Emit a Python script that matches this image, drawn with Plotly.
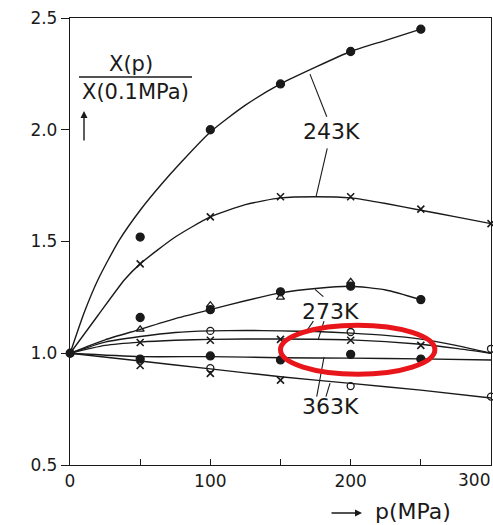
import plotly.graph_objects as go

c243a_x = [0.1, 10, 20, 35, 50, 65, 80, 100, 125, 150, 175, 200, 225, 250]
c243a_y = [1.0, 1.18, 1.33, 1.505, 1.64, 1.755, 1.86, 1.99, 2.11, 2.205, 2.28, 2.35, 2.40, 2.45]
c243b_x = [0.1, 20, 39, 50, 75, 100, 125, 150, 175, 200, 225, 250, 275, 300]
c243b_y = [1.0, 1.17, 1.33, 1.40, 1.52, 1.61, 1.665, 1.695, 1.70, 1.695, 1.67, 1.64, 1.61, 1.58]
c273a_x = [0.1, 25, 50, 75, 100, 125, 150, 175, 200, 225, 250]
c273a_y = [1.0, 1.06, 1.107, 1.155, 1.195, 1.235, 1.27, 1.29, 1.30, 1.283, 1.24]
c273b_x = [0.1, 25, 50, 75, 100, 125, 150, 175, 200, 225, 250, 275, 300]
c273b_y = [1.0, 1.05, 1.075, 1.093, 1.10, 1.102, 1.10, 1.097, 1.09, 1.08, 1.063, 1.035, 1.0]
cmid_x = [0.1, 25, 50, 75, 100, 150, 200, 250, 275, 300]
cmid_y = [1.0, 1.035, 1.05, 1.058, 1.062, 1.064, 1.06, 1.04, 1.022, 1.0]
c363a_x = [0.1, 50, 100, 150, 200, 250, 300]
c363a_y = [1.0, 0.985, 0.985, 0.98, 0.978, 0.975, 0.97]
c363b_x = [0.1, 50, 100, 150, 200, 250, 300]
c363b_y = [1.0, 0.965, 0.93, 0.895, 0.865, 0.835, 0.80]

# ---- measured points ----
p243_dot_x = [0.1, 50, 100, 150, 200, 250]
p243_dot_y = [1.0, 1.52, 2.00, 2.205, 2.35, 2.45]
p243_x_x = [50, 100, 150, 200, 250, 300]
p243_x_y = [1.40, 1.61, 1.70, 1.70, 1.645, 1.58]
p273_dot_x = [50, 100, 150, 200, 250]
p273_dot_y = [1.16, 1.195, 1.275, 1.30, 1.24]
p273_tri_x = [50, 100, 150, 200]
p273_tri_y = [1.107, 1.215, 1.25, 1.32]
p273_circ_x = [100, 200, 300]
p273_circ_y = [1.10, 1.095, 1.02]
pmid_x_x = [50, 100, 150, 200, 250]
pmid_x_y = [1.048, 1.058, 1.062, 1.058, 1.035]
p363_dot_x = [50, 100, 150, 200, 250]
p363_dot_y = [0.974, 0.988, 0.970, 0.995, 0.974]
p363_circ_x = [100, 200, 300]
p363_circ_y = [0.933, 0.853, 0.806]
p363_x_x = [50, 100, 150]
p363_x_y = [0.945, 0.91, 0.88]

x_ticks = [0, 100, 200, 300]
x_ticktext = ["0", "100", "200", "300"]
y_ticks = [0.5, 1.0, 1.5, 2.0, 2.5]
y_ticktext = ["0.5", "1.0", "1.5", "2.0", "2.5"]

INK = "#1a1a1a"
FONT = "DejaVu Sans"

fig = go.Figure()

for cx, cy in [(c243a_x, c243a_y), (c243b_x, c243b_y), (c273a_x, c273a_y),
               (c273b_x, c273b_y), (cmid_x, cmid_y), (c363a_x, c363a_y), (c363b_x, c363b_y)]:
    fig.add_trace(go.Scatter(x=cx, y=cy, mode="lines",
                             line=dict(color=INK, width=1.4, shape="spline", smoothing=0.6),
                             hoverinfo="skip", showlegend=False))

def pts(x, y, symbol, size, lw=1.3):
    fig.add_trace(go.Scatter(x=x, y=y, mode="markers",
                             marker=dict(symbol=symbol, size=size, color=INK,
                                         line=dict(color=INK, width=lw)),
                             cliponaxis=False, showlegend=False))

pts(p243_dot_x, p243_dot_y, "circle", 8)
pts(p243_x_x, p243_x_y, "x-thin", 7, 1.6)
pts(p273_dot_x, p273_dot_y, "circle", 8)
pts(p273_tri_x, p273_tri_y, "triangle-up-open", 7)
pts(p273_circ_x, p273_circ_y, "circle-open", 7)
pts(pmid_x_x, pmid_x_y, "x-thin", 7, 1.6)
pts(p363_dot_x, p363_dot_y, "circle", 8)
pts(p363_circ_x, p363_circ_y, "circle-open", 7)
pts(p363_x_x, p363_x_y, "x-thin", 7, 1.6)

shapes = []
# leader lines
for (x0, y0, x1, y1) in [
    (171, 2.249, 183, 2.058), (183.3, 1.917, 175.3, 1.70),
    (174.6, 1.286, 180.5, 1.253),
    (173.4, 1.144, 168.2, 1.096), (181, 1.144, 176.9, 1.062),
    (175.8, 0.806, 181, 0.982), (182.4, 0.806, 185.3, 0.866)]:
    shapes.append(dict(type="line", xref="x", yref="y", x0=x0, y0=y0, x1=x1, y1=y1,
                       line=dict(color=INK, width=1.1)))
# fraction bar of the y label
L, T, W, H = 70, 18, 421, 447
def px(x):
    return (x - L) / W
def py(y):
    return (T + H - y) / H
shapes.append(dict(type="line", xref="paper", yref="paper", x0=px(79), x1=px(192),
                   y0=py(77), y1=py(77), line=dict(color=INK, width=1.4)))
# red ellipse highlight
shapes.append(dict(type="circle", xref="x", yref="y", x0=150, x1=260, y0=0.906, y1=1.125,
                   line=dict(color="#e8161b", width=5)))

C = dict(xanchor="center", yanchor="middle")
annotations = [
    dict(x=186, y=1.994, xref="x", yref="y", text="243K", showarrow=False,
         font=dict(family=FONT, size=22, color=INK), **C),
    dict(x=185.3, y=1.186, xref="x", yref="y", text="273K", showarrow=False,
         font=dict(family=FONT, size=22, color=INK), **C),
    dict(x=185.3, y=0.761, xref="x", yref="y", text="363K", showarrow=False,
         font=dict(family=FONT, size=22, color=INK), **C),
    dict(x=px(131), y=py(64), xref="paper", yref="paper", text="X(p)", showarrow=False,
         font=dict(family=FONT, size=21, color=INK), **C),
    dict(x=px(135), y=py(92), xref="paper", yref="paper", text="X(0.1MPa)", showarrow=False,
         font=dict(family=FONT, size=21, color=INK), **C),
    dict(x=px(84), y=py(111), xref="paper", yref="paper", ax=0, ay=31, text="",
         showarrow=True, arrowhead=2, arrowsize=1, arrowwidth=1.4, arrowcolor=INK),
    dict(x=px(362), y=py(513), xref="paper", yref="paper", ax=-32, ay=0, text="",
         showarrow=True, arrowhead=2, arrowsize=1, arrowwidth=1.4, arrowcolor=INK),
    dict(x=px(413), y=py(511), xref="paper", yref="paper", text="p(MPa)", showarrow=False,
         font=dict(family=FONT, size=22, color=INK), **C),
    # last x tick label, kept inside the page like in the reference
    dict(x=px(474), y=py(480), xref="paper", yref="paper", text=x_ticktext[-1],
         showarrow=False, font=dict(family=FONT, size=17, color=INK), **C),
]

fig.update_layout(
    width=493, height=525,
    margin=dict(l=70, r=2, t=18, b=60),
    paper_bgcolor="white", plot_bgcolor="white",
    shapes=shapes, annotations=annotations,
    font=dict(family=FONT, size=17, color=INK),
    xaxis=dict(range=[0, 300], tickvals=x_ticks, ticktext=x_ticktext[:-1] + [""],
               ticks="inside", ticklen=6, tickcolor=INK, tickwidth=1.2,
               minor=dict(dtick=50, ticks="inside", ticklen=6, tickcolor=INK, tickwidth=1.2),
               showline=True, linecolor=INK, linewidth=1.3, mirror=True,
               showgrid=False, zeroline=False, tickfont=dict(size=17)),
    yaxis=dict(range=[0.5, 2.5], tickvals=y_ticks, ticktext=y_ticktext,
               ticks="outside", ticklen=8, tickcolor=INK, tickwidth=1.2,
               showline=True, linecolor=INK, linewidth=1.3, mirror=True,
               showgrid=False, zeroline=False, tickfont=dict(size=17)),
)

fig.write_html("out.html")
